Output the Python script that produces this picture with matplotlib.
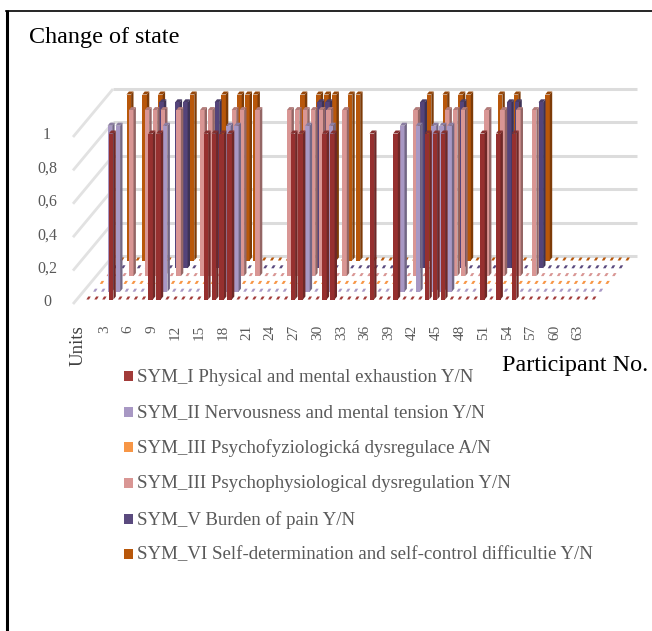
import matplotlib
matplotlib.use("Agg")
import matplotlib.pyplot as plt

plt.rcParams["font.family"] = ["Liberation Serif", "DejaVu Serif"]

# participant positions where each symptom is Y (all others are 0)
sym_1 = [3, 8, 9, 15, 16, 17, 18, 26, 27, 30, 31, 36, 39, 43, 44, 45, 50, 52, 54]
sym_2 = [2, 3, 9, 17, 18, 27, 30, 39, 41, 43, 44, 45]
sym_3a = []
sym_3b = [3, 5, 6, 7, 9, 12, 13, 16, 17, 19, 23, 24, 25, 26, 27, 28, 30, 39, 43, 44, 45, 48, 50, 52, 54]
sym_5 = [6, 8, 9, 13, 26, 27, 39, 44, 50, 51, 54]
sym_6 = [1, 3, 5, 9, 13, 15, 16, 17, 23, 25, 26, 27, 29, 30, 39, 41, 43, 44, 48, 50, 54]

series = [sym_1, sym_2, sym_3a, sym_3b, sym_5, sym_6]
names = ["SYM_I Physical and mental exhaustion Y/N",
         "SYM_II Nervousness and mental tension Y/N",
         "SYM_III Psychofyziologická dysregulace A/N",
         "SYM_III Psychophysiological dysregulation Y/N",
         "SYM_V Burden of pain Y/N",
         "SYM_VI Self-determination and self-control difficultie Y/N"]
colors = ["#a23b39", "#a898c4", "#f79646", "#d99694", "#5a4a7e", "#b8570a"]
front_colors = ["#96302f", "#a898c4", "#f79646", "#d99694", "#54447a", "#b8570a"]
n_cat = 65
y_ticks = [0, 0.2, 0.4, 0.6, 0.8, 1]
y_labels = ["0", "0,2", "0,4", "0,6", "0,8", "1"]
x_ticks = list(range(3, 64, 3))


def shade(col, f):
    rgb = matplotlib.colors.to_rgb(col)
    return tuple(c * f for c in rgb)


# oblique projection of the Excel 3D chart
def proj(p, depth, v):
    return 88.6 + 7.9 * p + 6.7 * depth, 299.5 - 7.8 * depth - 166 * v


fig = plt.figure(figsize=(6.52, 6.31), dpi=100)
ax = fig.add_axes([0, 0, 1, 1])
ax.set_xlim(0, 652)
ax.set_ylim(631, 0)
ax.axis("off")

# frame
ax.plot([7, 7], [10, 631], color="black", lw=2.2, solid_capstyle="butt")
ax.plot([6, 652], [10.5, 10.5], color="black", lw=1.2)

# walls
for v in y_ticks:
    y = 256 - 167 * v
    ax.plot([113, 637], [y, y], color="#dcdcdc", lw=2.2, solid_capstyle="butt", zorder=1)
    ax.plot([73, 113], [y + 48, y], color="#e2e2e2", lw=2, solid_capstyle="butt", zorder=1)

# bars, back row first
z = 2
for d in range(5, -1, -1):
    for p in range(n_cat):
        v = 1 if p in series[d] else 0
        x0, y0 = proj(p, d, 0)
        x1, y1 = proj(p, d, v)
        if v:
            ax.fill([x1 - 3.5, x1 + 1.1, x1 + 3.5, x1 - 1.1], [y1, y1, y1 - 3, y1 - 3],
                    color=shade(colors[d], 0.82), lw=0, zorder=z)
            ax.fill([x0 - 3.5, x0 + 1.1, x1 + 1.1, x1 - 3.5], [y0, y0, y1, y1],
                    color=front_colors[d], lw=0, zorder=z)
            ax.fill([x0 + 1.1, x0 + 3.5, x1 + 3.5, x1 + 1.1], [y0, y0 - 3, y1 - 3, y1],
                    color=shade(colors[d], 0.68), lw=0, zorder=z)
        else:
            # zero values show up as small floor dashes
            ax.fill([x0 - 2.2, x0 + 0.4, x0 + 2.2, x0 - 0.4], [y0, y0, y0 - 3, y0 - 3],
                    color=colors[d], lw=0, zorder=z)
        z += 1

# axis text
for v, lab in zip(y_ticks, y_labels):
    ax.text(47, 302 - 167 * v, lab, fontsize=11.5, color="#595959", ha="center", va="center")
ax.text(78, 366, "Units", fontsize=13.5, color="#404040", rotation=90, ha="center", va="bottom")
for t in x_ticks:
    ax.text(proj(t, 0, 0)[0] - 8, 325, str(t), fontsize=11, color="#595959",
            rotation=90, ha="center", va="top")
ax.text(29, 38, "Change of state", fontsize=17.4, color="black", va="center")
ax.text(502, 366, "Participant No.", fontsize=17.4, color="black", va="center")

# legend
leg_y = [376, 412, 447, 483, 519, 554]
for ly, name, col in zip(leg_y, names, colors):
    ax.fill([124, 133, 133, 124], [ly - 5, ly - 5, ly + 5, ly + 5], color=col, lw=0)
    ax.text(137, ly + 1, name, fontsize=13.6, color="#595959", va="center")

fig.savefig("out.png", dpi=100)
